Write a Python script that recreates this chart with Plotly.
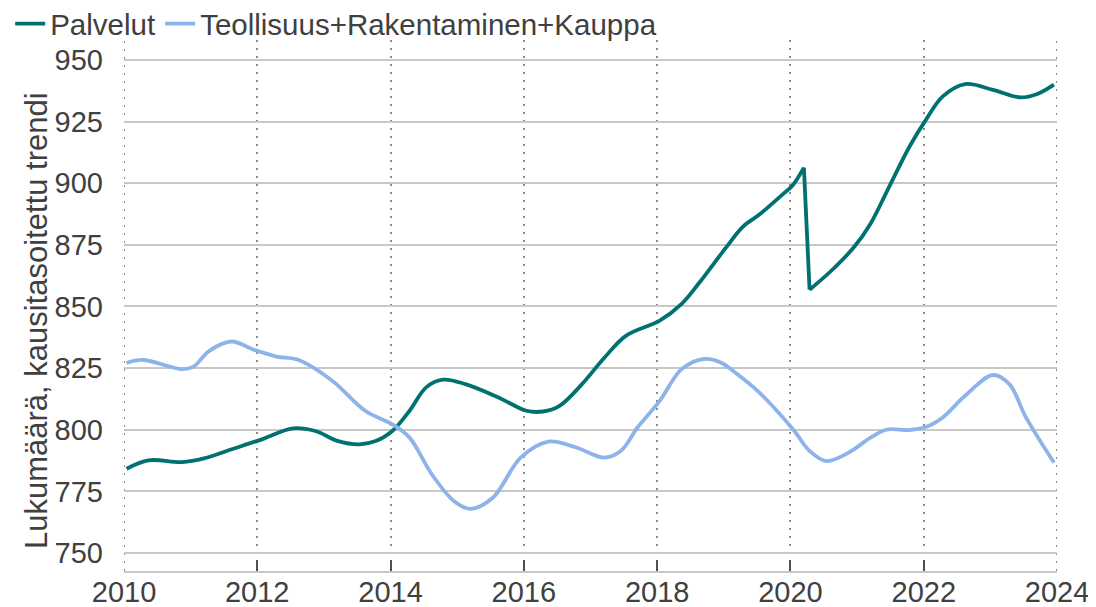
import plotly.graph_objects as go

# ---- data ----
palv_dates = ["2010-01-15", "2010-05-15", "2010-11-15", "2011-03-15", "2011-08-15",
              "2012-01-15", "2012-07-15", "2012-11-15", "2013-03-15", "2013-07-15",
              "2013-10-15", "2014-01-15", "2014-04-15", "2014-07-15", "2014-10-15",
              "2015-02-15", "2015-08-15", "2016-01-15", "2016-04-15", "2016-07-15",
              "2016-11-15", "2017-03-15", "2017-07-15", "2018-01-15", "2018-05-15",
              "2018-08-15", "2019-01-15", "2019-04-15", "2019-07-15", "2019-11-15",
              "2020-01-15", "2020-03-15", "2020-04-15", "2020-08-15", "2020-12-15",
              "2021-03-15", "2021-06-15", "2021-10-15", "2022-01-15", "2022-04-15",
              "2022-08-15", "2023-01-15", "2023-06-15", "2023-09-15", "2023-12-15"]
palv_values = [784.2, 787.6, 786.9, 788.4, 792.1,
               795.8, 800.6, 799.5, 795.5, 794.1,
               795.5, 799.8, 807.7, 817.2, 820.3,
               818.5, 813.1, 807.7, 807.4, 809.7,
               818.5, 829.0, 838.2, 844.3, 851.1,
               859.2, 874.1, 882.3, 887.3, 895.2,
               899.3, 906.3, 856.8, 864.7, 874.1,
               883.6, 897.0, 914.9, 926.0, 935.2,
               940.2, 937.9, 934.8, 936.2, 940.0]

teol_dates = ["2010-01-15", "2010-04-15", "2010-11-15", "2011-01-15", "2011-04-15",
              "2011-08-15", "2011-12-15", "2012-04-15", "2012-08-15", "2013-02-15",
              "2013-08-15", "2014-01-15", "2014-04-15", "2014-08-15", "2014-12-15",
              "2015-03-15", "2015-07-15", "2015-12-15", "2016-05-15", "2016-10-15",
              "2017-03-15", "2017-06-15", "2017-09-15", "2018-01-15", "2018-05-15",
              "2018-09-15", "2018-12-15", "2019-03-15", "2019-07-15", "2020-01-15",
              "2020-04-15", "2020-07-15", "2020-11-15", "2021-03-15", "2021-06-15",
              "2021-10-15", "2022-01-15", "2022-04-15", "2022-08-15", "2023-01-15",
              "2023-04-15", "2023-07-15", "2023-12-15"]
teol_values = [827.1, 828.3, 824.6, 825.5, 832.1,
               835.8, 832.4, 829.7, 828.3, 819.9,
               807.7, 802.0, 796.8, 781.9, 771.0,
               767.9, 772.4, 788.7, 795.2, 792.8,
               788.7, 791.4, 800.9, 811.7, 824.6,
               828.7, 827.3, 822.6, 815.1, 800.2,
               791.4, 787.3, 790.7, 796.8, 800.1,
               799.9, 801.2, 805.0, 813.8, 822.2,
               818.5, 805.0, 786.7]

series_names = ["Palvelut", "Teollisuus+Rakentaminen+Kauppa"]
x_tick_labels = ["2010", "2012", "2014", "2016", "2018", "2020", "2022", "2024"]
y_ticks = [750, 775, 800, 825, 850, 875, 900, 925, 950]
y_title = "Lukumäärä, kausitasoitettu trendi"

TEAL = "#007070"
BLUE = "#8db4ea"
TXT = "#404040"
GRIDV = "#8a8a8a"
FONT = "Liberation Sans, Arial, sans-serif"
DOT = "2px,6px"

# split Palvelut at the abrupt break (Mar -> Apr 2020)
brk = palv_dates.index("2020-03-15")

fig = go.Figure()
fig.add_trace(go.Scatter(x=palv_dates[:brk + 1], y=palv_values[:brk + 1], mode="lines",
                         name=series_names[0], legendgroup="p",
                         line=dict(color=TEAL, width=3.8, shape="spline", smoothing=1)))
fig.add_trace(go.Scatter(x=palv_dates[brk:brk + 2], y=palv_values[brk:brk + 2], mode="lines",
                         name=series_names[0], legendgroup="p", showlegend=False,
                         line=dict(color=TEAL, width=3.8)))
fig.add_trace(go.Scatter(x=palv_dates[brk + 1:], y=palv_values[brk + 1:], mode="lines",
                         name=series_names[0], legendgroup="p", showlegend=False,
                         line=dict(color=TEAL, width=3.8, shape="spline", smoothing=1)))
fig.add_trace(go.Scatter(x=teol_dates, y=teol_values, mode="lines",
                         name=series_names[1],
                         line=dict(color=BLUE, width=3.8, shape="spline", smoothing=1)))

# page body has an 8px margin -> figure is 8px smaller and margins shifted by 8
W, H = 1088, 599
ML, MR, MT, MB = 116, 39, 32, 36
plot_h = H - MT - MB
plot_w = W - ML - MR

tick_dates = [f"{t}-01-01" for t in x_tick_labels]

# dotted grid lines at the two range edges (plotly omits grid lines on the plot border)
edge_lines = [dict(type="line", xref="x", yref="paper", x0=d, x1=d, y0=0, y1=1,
                   line=dict(color=GRIDV, width=2, dash=DOT), layer="below")
              for d in (tick_dates[0], tick_dates[-1])]

fig.update_layout(
    width=W, height=H,
    margin=dict(l=ML, r=MR, t=MT, b=MB, autoexpand=False),
    paper_bgcolor="white", plot_bgcolor="white",
    font=dict(family=FONT, color=TXT, size=27),
    showlegend=True,
    legend=dict(orientation="h", x=0.002, y=1 + 16 / plot_h, xref="container", yref="paper",
                xanchor="left", yanchor="middle", font=dict(size=29.5, color=TXT),
                bgcolor="rgba(0,0,0,0)", itemwidth=30, tracegroupgap=0,
                traceorder="normal"),
    xaxis=dict(type="date", range=[tick_dates[0], tick_dates[-1]],
               tickvals=tick_dates, ticktext=x_tick_labels,
               showgrid=True, gridcolor=GRIDV, gridwidth=2, griddash=DOT,
               ticks="inside", ticklen=11, tickwidth=2, tickcolor="#505050",
               showline=True, linecolor="#c8c8c8", linewidth=2,
               ticklabelstandoff=-6,
               zeroline=False, tickfont=dict(size=29, color=TXT), automargin=False),
    yaxis=dict(range=[742.7, 958.1], tickvals=y_ticks,
               showgrid=True, gridcolor="#c8c8c8", gridwidth=1.5,
               zeroline=False, showline=False, ticks="",
               ticklabelstandoff=20,
               tickfont=dict(size=29, color=TXT), automargin=False),
    shapes=edge_lines,
    annotations=[dict(text=y_title, textangle=-90, showarrow=False,
                      xref="paper", yref="paper",
                      x=(28 - ML) / plot_w, y=1 - (313 - MT) / plot_h,
                      xanchor="center", yanchor="middle",
                      font=dict(size=31, color=TXT))],
)

fig.write_html("out.html")
